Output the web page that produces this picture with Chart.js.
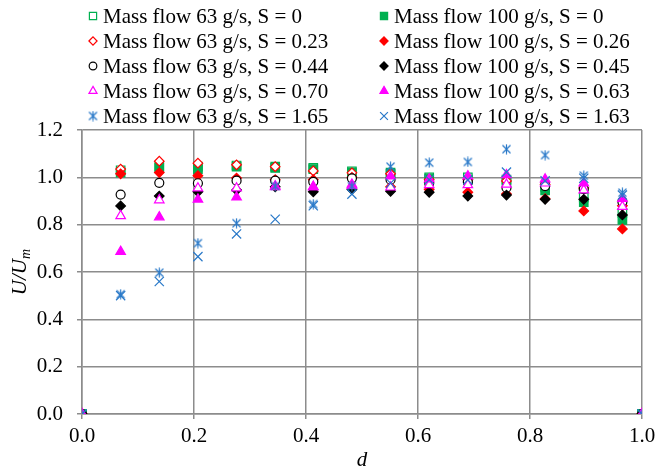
<!DOCTYPE html>
<html>
<head>
<meta charset="utf-8">
<script src="https://cdn.jsdelivr.net/npm/chart.js@4/dist/chart.umd.min.js"></script>
<style>
  html, body { margin: 0; padding: 0; background: #fff; }
  #wrap { width: 655px; height: 473px; }
</style>
</head>
<body>
<div id="wrap"><canvas id="chart-canvas"></canvas></div>
<script>
// measuring positions d (0 and 1 are the walls)
const positions = [0, 0.069, 0.138, 0.207, 0.276, 0.345, 0.413, 0.482, 0.551, 0.620, 0.689, 0.758, 0.827, 0.896, 0.965, 1.0]

// U/Um for each case
const flow63s000 = [0, 1.03, 1.045, 1.045, 1.05, 1.045, 1.04, 1.025, 1.02, 1.0, 1.0, 0.99, 0.96, 0.915, 0.85, 0]
const flow100s000 = [0, 1.02, 1.04, 1.035, 1.045, 1.04, 1.035, 1.02, 1.015, 0.995, 0.99, 0.985, 0.945, 0.895, 0.82, 0]
const flow63s023 = [0, 1.035, 1.068, 1.06, 1.053, 1.045, 1.027, 1.019, 1.015, 0.99, 0.99, 0.985, 0.97, 0.955, 0.88, 0]
const flow100s026 = [0, 1.015, 1.02, 1.007, 0.997, 0.99, 0.99, 1.0, 0.96, 0.949, 0.937, 0.93, 0.91, 0.858, 0.782, 0]
const flow63s044 = [0, 0.927, 0.977, 0.975, 0.986, 0.986, 0.981, 0.996, 0.99, 0.975, 0.98, 0.956, 0.963, 0.95, 0.897, 0]
const flow100s045 = [0, 0.879, 0.921, 0.939, 0.946, 0.96, 0.939, 0.949, 0.941, 0.937, 0.921, 0.925, 0.907, 0.907, 0.841, 0]
const flow63s070 = [0, 0.837, 0.904, 0.954, 0.954, 0.963, 0.96, 0.965, 0.958, 0.968, 0.968, 0.97, 0.975, 0.946, 0.876, 0]
const flow100s063 = [0, 0.686, 0.832, 0.907, 0.916, 0.96, 0.96, 0.97, 1.005, 0.992, 1.005, 1.01, 0.992, 0.975, 0.91, 0]
const flow63s165 = [0, 0.506, 0.597, 0.722, 0.806, 0.963, 0.887, 0.963, 1.045, 1.062, 1.065, 1.119, 1.094, 1.007, 0.935, 0]
const flow100s163 = [0, 0.50, 0.56, 0.665, 0.761, 0.823, 0.88, 0.929, 0.975, 0.99, 0.989, 1.022, 0.985, 0.996, 0.925, 0]

const yTicks = [0, 0.2, 0.4, 0.6, 0.8, 1.0, 1.2]
const xTicks = [0, 0.2, 0.4, 0.6, 0.8, 1.0]

const GREEN = '#00B050'
const RED = '#FF0000'
const MAGENTA = '#FF00FF'
const BLUE = '#2878C8'
const FONT = '"Liberation Serif", "Times New Roman", serif'

// Excel style asterisk marker: an x with a vertical bar
function asterisk (color) {
  const c = document.createElement('canvas')
  c.width = 11
  c.height = 11
  const g = c.getContext('2d')
  g.strokeStyle = color
  g.lineWidth = 1.2
  g.beginPath()
  g.moveTo(5.5, 0.5); g.lineTo(5.5, 10.5)
  g.moveTo(1.5, 1.5); g.lineTo(9.5, 9.5)
  g.moveTo(9.5, 1.5); g.lineTo(1.5, 9.5)
  g.stroke()
  return c
}

const series = [
  { label: 'Mass flow 63 g/s, S = 0', values: flow63s000, color: GREEN, style: 'rect', radius: 6, open: true },
  { label: 'Mass flow 100 g/s, S = 0', values: flow100s000, color: GREEN, style: 'rect', radius: 6, open: false },
  { label: 'Mass flow 63 g/s, S = 0.23', values: flow63s023, color: RED, style: 'rectRot', radius: 4.8, open: true },
  { label: 'Mass flow 100 g/s, S = 0.26', values: flow100s026, color: RED, style: 'rectRot', radius: 4.8, open: false },
  { label: 'Mass flow 63 g/s, S = 0.44', values: flow63s044, color: '#000', style: 'circle', radius: 4.5, open: true },
  { label: 'Mass flow 100 g/s, S = 0.45', values: flow100s045, color: '#000', style: 'rectRot', radius: 4.8, open: false },
  { label: 'Mass flow 63 g/s, S = 0.70', values: flow63s070, color: MAGENTA, style: 'triangle', radius: 5.5, open: true },
  { label: 'Mass flow 100 g/s, S = 0.63', values: flow100s063, color: MAGENTA, style: 'triangle', radius: 5.5, open: false },
  { label: 'Mass flow 63 g/s, S = 1.65', values: flow63s165, color: BLUE, style: asterisk(BLUE), radius: 5.5, open: true },
  { label: 'Mass flow 100 g/s, S = 1.63', values: flow100s163, color: BLUE, style: 'crossRot', radius: 6.5, open: true }
]

const datasets = series.map((s, i) => ({
  label: s.label,
  data: positions.map((d, j) => ({ x: d, y: s.values[j] })),
  pointStyle: s.style,
  pointRadius: s.radius,
  pointBorderColor: s.color,
  pointBackgroundColor: s.open ? '#fff' : s.color,
  pointBorderWidth: 1.2,
  showLine: false,
  // later series sit on top, like the original
  order: series.length - i
}))

// two column legend drawn above the plot
const legendPlugin = {
  id: 'twoColumnLegend',
  afterDraw (chart) {
    const ctx = chart.ctx
    ctx.save()
    ctx.font = '21px ' + FONT
    ctx.textBaseline = 'middle'
    series.forEach((s, i) => {
      const col = i % 2
      const row = Math.floor(i / 2)
      const mx = col === 0 ? 93 : 384
      const y = 16 + row * 25
      ctx.fillStyle = s.open ? '#fff' : s.color
      ctx.strokeStyle = s.color
      ctx.lineWidth = 1.2
      Chart.helpers.drawPoint(ctx, {
        pointStyle: s.style,
        radius: s.radius * 0.85,
        rotation: 0,
        borderWidth: 1.2
      }, mx, y)
      ctx.fillStyle = '#000'
      ctx.fillText(s.label, mx + 10, y + 1)
    })
    ctx.restore()
  }
}

// y axis title with subscript
const yTitlePlugin = {
  id: 'yTitle',
  afterDraw (chart) {
    const ctx = chart.ctx
    const main = 'U/U'
    const sub = 'm'
    ctx.save()
    ctx.translate(20, (chart.chartArea.top + chart.chartArea.bottom) / 2)
    ctx.rotate(-Math.PI / 2)
    ctx.fillStyle = '#000'
    ctx.textBaseline = 'alphabetic'
    ctx.font = 'italic 21px ' + FONT
    const w1 = ctx.measureText(main).width
    ctx.font = 'italic 14px ' + FONT
    const w2 = ctx.measureText(sub).width
    const x0 = -(w1 + w2) / 2
    ctx.font = 'italic 21px ' + FONT
    ctx.fillText(main, x0, 6)
    ctx.font = 'italic 14px ' + FONT
    ctx.fillText(sub, x0 + w1, 10)
    ctx.restore()
  }
}

const ctx = document.getElementById('chart-canvas')
new Chart(ctx, {
  type: 'scatter',
  data: { datasets },
  plugins: [legendPlugin, yTitlePlugin],
  options: {
    animation: false,
    responsive: true,
    maintainAspectRatio: false,
    layout: { padding: { top: 130, right: 0, left: 0, bottom: 0 } },
    plugins: {
      legend: { display: false },
      tooltip: { enabled: false }
    },
    scales: {
      x: {
        type: 'linear',
        min: 0,
        max: 1,
        afterBuildTicks: (scale) => { scale.ticks = xTicks.map(v => ({ value: v })) },
        afterFit: (scale) => {
          scale.height = 59
          scale.paddingLeft = 0
          scale.paddingRight = 13
        },
        grid: { color: '#8c8c8c', lineWidth: 1.5, tickLength: 5 },
        border: { color: '#8c8c8c', width: 1.5 },
        ticks: {
          color: '#000',
          font: { family: FONT, size: 21 },
          padding: 5,
          maxRotation: 0,
          callback: (v) => Number(v).toFixed(1)
        },
        title: {
          display: true,
          text: 'd',
          color: '#000',
          font: { family: FONT, size: 21, style: 'italic' },
          padding: { top: 0, bottom: 0 }
        }
      },
      y: {
        min: 0,
        max: 1.2,
        afterBuildTicks: (scale) => { scale.ticks = yTicks.map(v => ({ value: v })) },
        afterFit: (scale) => { scale.width = 82 },
        grid: { color: '#8c8c8c', lineWidth: 1.5, tickLength: 5 },
        border: { color: '#8c8c8c', width: 1.5 },
        ticks: {
          color: '#000',
          font: { family: FONT, size: 21 },
          padding: 14,
          callback: (v) => Number(v).toFixed(1)
        }
      }
    }
  }
})
</script>
</body>
</html>
